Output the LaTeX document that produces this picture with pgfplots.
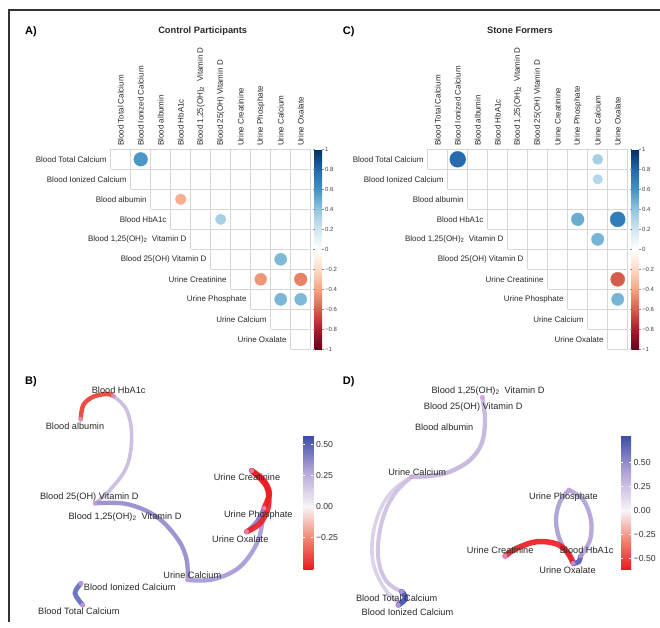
\documentclass[border=0pt]{standalone}
\usepackage{pgfplots}
\pgfplotsset{compat=1.18}
\usepackage{fontspec}
\setmainfont{Liberation Sans}
\newcommand{\fs}[1]{\fontsize{#1}{#1}\selectfont}
\definecolor{gridc}{RGB}{215,215,215}
\definecolor{labc}{RGB}{40,40,40}
\definecolor{nodec}{RGB}{215,160,220}
% network B edge colours
\definecolor{eBa}{RGB}{235,60,45}
\definecolor{eBb}{RGB}{200,185,222}
\definecolor{eBc}{RGB}{150,135,205}
\definecolor{eBd}{RGB}{165,150,212}
\definecolor{eBe}{RGB}{135,120,205}
\definecolor{eBf}{RGB}{235,25,30}
\definecolor{eBg}{RGB}{235,30,35}
\definecolor{eBh}{RGB}{95,105,190}
% network D edge colours
\definecolor{eDa}{RGB}{195,180,220}
\definecolor{eDb}{RGB}{205,190,225}
\definecolor{eDc}{RGB}{215,205,232}
\definecolor{eDd}{RGB}{60,75,175}
\definecolor{eDe}{RGB}{175,160,215}
\definecolor{eDf}{RGB}{170,155,212}
\definecolor{eDg}{RGB}{80,85,185}
\definecolor{eDh}{RGB}{235,25,30}
\pgfplotsset{
  colormap={corr}{rgb255(0cm)=(103,0,31) rgb255(1cm)=(178,24,43) rgb255(2cm)=(214,96,77) rgb255(3cm)=(244,165,130) rgb255(4cm)=(253,219,199) rgb255(5cm)=(255,255,255) rgb255(6cm)=(209,229,240) rgb255(7cm)=(146,197,222) rgb255(8cm)=(67,147,195) rgb255(9cm)=(33,102,172) rgb255(10cm)=(5,48,97)},
  colormap={netB}{rgb255(0cm)=(235,25,35) rgb255(2.525cm)=(242,135,115) rgb255(5.05cm)=(248,244,248) rgb255(7.94cm)=(180,165,215) rgb255(10.83cm)=(55,75,165)},
  colormap={netD}{rgb255(0cm)=(235,25,35) rgb255(3.05cm)=(242,135,115) rgb255(6.1cm)=(248,244,248) rgb255(10cm)=(180,165,215) rgb255(13.9cm)=(55,75,165)},
}
\tikzset{
  rowlab/.style={anchor=east, inner sep=0pt, font=\fs{8}, text=labc},
  collab/.style={anchor=west, rotate=90, inner sep=0pt, font=\fs{8}, text=labc},
  netlab/.style={anchor=center, inner sep=0pt, font=\fs{9.2}, text=labc},
}
\newcommand{\matrixlabels}{%
  \node[rowlab] at (axis cs:0.3,10) {Blood Total Calcium};
  \node[rowlab] at (axis cs:1.3,9) {Blood Ionized Calcium};
  \node[rowlab] at (axis cs:2.3,8) {Blood albumin};
  \node[rowlab] at (axis cs:3.3,7) {Blood HbA1c};
  \node[rowlab] at (axis cs:4.3,6) {Blood 1,25(OH)\textsubscript{2}\ \ Vitamin D};
  \node[rowlab] at (axis cs:5.3,5) {Blood 25(OH) Vitamin D};
  \node[rowlab] at (axis cs:6.3,4) {Urine Creatinine};
  \node[rowlab] at (axis cs:7.3,3) {Urine Phosphate};
  \node[rowlab] at (axis cs:8.3,2) {Urine Calcium};
  \node[rowlab] at (axis cs:9.3,1) {Urine Oxalate};
  \node[collab] at (axis cs:1,10.665) {Blood Total Calcium};
  \node[collab] at (axis cs:2,10.665) {Blood Ionized Calcium};
  \node[collab] at (axis cs:3,10.665) {Blood albumin};
  \node[collab] at (axis cs:4,10.665) {Blood HbA1c};
  \node[collab] at (axis cs:5,10.665) {Blood 1,25(OH)\textsubscript{2}\ \ Vitamin D};
  \node[collab] at (axis cs:6,10.665) {Blood 25(OH) Vitamin D};
  \node[collab] at (axis cs:7,10.665) {Urine Creatinine};
  \node[collab] at (axis cs:8,10.665) {Urine Phosphate};
  \node[collab] at (axis cs:9,10.665) {Urine Calcium};
  \node[collab] at (axis cs:10,10.665) {Urine Oxalate};
}
\newcommand{\matrixgrid}{%
  \addplot[gridc, line width=0.7pt, unbounded coords=jump] coordinates {
    (0.5,10.5) (10.5,10.5) (nan,nan)
    (0.5,9.5) (10.5,9.5) (nan,nan)
    (1.5,8.5) (10.5,8.5) (nan,nan)
    (2.5,7.5) (10.5,7.5) (nan,nan)
    (3.5,6.5) (10.5,6.5) (nan,nan)
    (4.5,5.5) (10.5,5.5) (nan,nan)
    (5.5,4.5) (10.5,4.5) (nan,nan)
    (6.5,3.5) (10.5,3.5) (nan,nan)
    (7.5,2.5) (10.5,2.5) (nan,nan)
    (8.5,1.5) (10.5,1.5) (nan,nan)
    (9.5,0.5) (10.5,0.5) (nan,nan)
    (0.5,9.5) (0.5,10.5) (nan,nan)
    (1.5,8.5) (1.5,10.5) (nan,nan)
    (2.5,7.5) (2.5,10.5) (nan,nan)
    (3.5,6.5) (3.5,10.5) (nan,nan)
    (4.5,5.5) (4.5,10.5) (nan,nan)
    (5.5,4.5) (5.5,10.5) (nan,nan)
    (6.5,3.5) (6.5,10.5) (nan,nan)
    (7.5,2.5) (7.5,10.5) (nan,nan)
    (8.5,1.5) (8.5,10.5) (nan,nan)
    (9.5,0.5) (9.5,10.5) (nan,nan)
    (10.5,0.5) (10.5,10.5)
  };
}
\pgfplotsset{
  corrmatrix/.style={
    width=200pt, height=200pt, scale only axis,
    xmin=0.5, xmax=10.5, ymin=0.5, ymax=10.5,
    axis line style={draw=none}, xtick=\empty, ytick=\empty,
    clip=false,
    colormap name=corr, point meta min=-1, point meta max=1,
    colorbar, colorbar shift/.style={},
    colorbar style={
      at={(parent axis.north east)}, anchor=north west, xshift=3.8pt,
      width=7.5pt, scale only axis,
      axis line style={draw=none},
      ytick={-1,-0.8,-0.6,-0.4,-0.2,0,0.2,0.4,0.6,0.8,1},
      yticklabels={−1,−0.8,−0.6,−0.4,−0.2,0,0.2,0.4,0.6,0.8,1},
      yticklabel style={font=\fs{6}, text=black!75, inner sep=0pt, xshift=1.5pt},
      major tick length=1.5pt, tick align=outside,
      ytick style={draw=black!45, line width=0.3pt},
    },
  },
  corrpts/.style={
    scatter, only marks, mark=*, scatter src=explicit,
    scatter/use mapped color={draw=mapped color, fill=mapped color},
    visualization depends on={9*sqrt(abs(\thisrow{r})) \as \rad},
    scatter/@pre marker code/.append style={/tikz/mark size=\rad},
  },
  netcbar/.style={
    width=10pt, height=134.3pt, scale only axis,
    axis line style={draw=none},
    yticklabel style={font=\fs{8.7}, text=black!80, inner sep=0pt, xshift=2.5pt},
    major tick length=2pt, tick align=inside,
    ytick style={draw=white, line width=0.5pt},
  },
  edge/.style={smooth, tension=0.6, line cap=round, opacity=0.9},
  nodedots/.style={only marks, mark=*, mark size=2.1pt, color=nodec, opacity=0.75},
}
\begin{document}
\begin{tikzpicture}
\path[use as bounding box] (0pt,0pt) rectangle (660pt,627pt);
\draw[line width=1.2pt, black!80] (9pt,5pt) -- (9pt,617pt) -- (660pt,617pt);

% ---------------- Panel A ----------------
\begin{axis}[corrmatrix, at={(210.7pt,377.7pt)}, anchor=center]
\matrixgrid
\addplot[corrpts] table[x=x, y=y, meta=r] {
x y r
2 10 0.58
4 8 -0.36
6 7 0.34
9 5 0.45
8 4 -0.44
10 4 -0.50
9 3 0.46
10 3 0.45
};
\matrixlabels
\end{axis}

% ---------------- Panel C ----------------
\begin{axis}[corrmatrix, at={(527.7pt,377.7pt)}, anchor=center]
\matrixgrid
\addplot[corrpts] table[x=x, y=y, meta=r] {
x y r
2 10 0.78
9 10 0.33
9 9 0.29
8 7 0.50
10 7 0.70
9 6 0.47
10 4 -0.61
10 3 0.47
};
\matrixlabels
\end{axis}

% ---------------- Panel B ----------------
\begin{axis}[at={(0pt,0pt)}, anchor=south west, width=330pt, height=307pt, scale only axis,
  xmin=0, xmax=330, ymin=0, ymax=307,
  axis line style={draw=none}, xtick=\empty, ytick=\empty, clip=false,
  colormap name=netB, point meta min=-0.505, point meta max=0.578,
  colorbar, colorbar shift/.style={},
  colorbar style={netcbar, at={(parent axis.south west)}, anchor=south west, xshift=303.3pt, yshift=57.7pt,
    ytick={-0.25,0,0.25,0.5}, yticklabels={−0.25,0.00,0.25,0.50}}]
\addplot[edge, draw=eBb, line width=3.6pt] coordinates {(113.3,231) (126.7,217) (131.7,190.3) (126.7,160.3) (110,137) (95,123.7)};
\addplot[edge, draw=eBc, line width=4.3pt] coordinates {(95,123.7) (126.7,123) (156.7,110.3) (178.3,87) (186.7,67) (187.7,47)};
\addplot[edge, draw=eBd, line width=4.3pt] coordinates {(187.7,47) (213.3,47.7) (240,60.3) (258.3,87) (264,118.7)};
\addplot[edge, draw=eBe, line width=4.3pt] coordinates {(264,118.7) (256.7,105.3) (246.7,95.3)};
\addplot[edge, draw=eBa, line width=4.4pt] coordinates {(80.7,207.7) (83.3,222) (93.3,230.3) (106.7,233) (113.3,231)};
\addplot[edge, draw=eBf, line width=5.5pt] coordinates {(251.7,156.3) (263.3,147) (269.3,133.7) (264,118.7)};
\addplot[edge, draw=eBg, line width=5.5pt] coordinates {(251.7,156.3) (266.7,140.3) (268.3,120.3) (260,103.7) (246.7,95.3)};
\addplot[edge, draw=eBh, line width=4.8pt] coordinates {(82.7,22) (75,33.7) (81,43.7)};
\addplot[nodedots] coordinates {(113.3,231) (80.7,207.7) (95,123.7) (187.7,47) (81,43.7) (82.7,22) (251.7,156.3) (264,118.7) (246.7,95.3)};
\node[netlab] at (axis cs:118.7,236.3) {Blood HbA1c};
\node[netlab] at (axis cs:75,201) {Blood albumin};
\node[netlab] at (axis cs:89.3,129.7) {Blood 25(OH) Vitamin D};
\node[netlab] at (axis cs:125,110.3) {Blood 1,25(OH)\textsubscript{2}\ \ Vitamin D};
\node[netlab] at (axis cs:192.3,52) {Urine Calcium};
\node[netlab] at (axis cs:129.7,39.7) {Blood Ionized Calcium};
\node[netlab] at (axis cs:78.8,15.3) {Blood Total Calcium};
\node[netlab] at (axis cs:247,149.3) {Urine Creatinine};
\node[netlab] at (axis cs:258.3,112) {Urine Phosphate};
\node[netlab] at (axis cs:240.3,88) {Urine Oxalate};
\end{axis}

% ---------------- Panel D ----------------
\begin{axis}[at={(330pt,0pt)}, anchor=south west, width=330pt, height=307pt, scale only axis,
  xmin=330, xmax=660, ymin=0, ymax=307,
  axis line style={draw=none}, xtick=\empty, ytick=\empty, clip=false,
  colormap name=netD, point meta min=-0.61, point meta max=0.78,
  colorbar, colorbar shift/.style={},
  colorbar style={netcbar, at={(parent axis.south west)}, anchor=south west, xshift=291pt, yshift=57.7pt,
    ytick={-0.5,-0.25,0,0.25,0.5}, yticklabels={−0.50,−0.25,0.00,0.25,0.50}}]
\addplot[edge, draw=eDa, line width=4.3pt] coordinates {(482.3,229.7) (485,207) (481.7,183.7) (470,167) (450,155.3) (430,151) (411.7,150.3)};
\addplot[edge, draw=eDc, line width=3.6pt] coordinates {(411.7,150.3) (393.3,137) (380,117) (372.7,90.3) (373.3,63.7) (383.3,40.3) (398.3,23.7)};
\addplot[edge, draw=eDb, line width=4pt] coordinates {(411.7,150.3) (396,135) (385,115) (378.7,89) (379,64) (387,45) (401.7,35.3)};
\addplot[edge, draw=eDd, line width=5.5pt] coordinates {(401.7,35.3) (405.5,28.5) (398.3,22)};
\addplot[edge, draw=eDe, line width=4.3pt] coordinates {(569,137) (583.3,127) (591,107) (590,87) (580.7,71)};
\addplot[edge, draw=eDf, line width=4.3pt] coordinates {(569,137) (560,125.3) (556,107) (560,87) (573.3,63.7)};
\addplot[edge, draw=eDh, line width=5.5pt] coordinates {(505,71) (516.7,78.7) (536.7,85.3) (556.7,83) (568,74) (573.3,63.7)};
\addplot[edge, draw=eDg, line width=5pt] coordinates {(580.7,71) (578.5,65) (573.3,63.7)};
\addplot[nodedots] coordinates {(482.3,229.7) (411.7,150.3) (401.7,35.3) (398.3,22) (569,137) (580.7,71) (573.3,63.7) (505,71)};
\node[netlab] at (axis cs:488,236.3) {Blood 1,25(OH)\textsubscript{2}\ \ Vitamin D};
\node[netlab] at (axis cs:473.2,219.7) {Blood 25(OH) Vitamin D};
\node[netlab] at (axis cs:444.2,199.7) {Blood albumin};
\node[netlab] at (axis cs:417.2,155) {Urine Calcium};
\node[netlab] at (axis cs:563.5,130) {Urine Phosphate};
\node[netlab] at (axis cs:500.2,76.7) {Urine Creatinine};
\node[netlab] at (axis cs:586.7,76.7) {Blood HbA1c};
\node[netlab] at (axis cs:567.5,57) {Urine Oxalate};
\node[netlab] at (axis cs:396.7,28.7) {Blood Total Calcium};
\node[netlab] at (axis cs:407.5,15) {Blood Ionized Calcium};
\end{axis}

% titles and panel letters
\node[font=\bfseries\fs{9.3}, text=labc] at (202.7pt,596.3pt) {Control Participants};
\node[font=\bfseries\fs{9.3}, text=labc] at (520pt,596.3pt) {Stone Formers};
\node[font=\bfseries\fs{11}, anchor=west, inner sep=0pt] at (25pt,595pt) {A)};
\node[font=\bfseries\fs{11}, anchor=west, inner sep=0pt] at (342.7pt,595pt) {C)};
\node[font=\bfseries\fs{11}, anchor=west, inner sep=0pt] at (25pt,245.3pt) {B)};
\node[font=\bfseries\fs{11}, anchor=west, inner sep=0pt] at (342.7pt,245.3pt) {D)};
\end{tikzpicture}
\end{document}
